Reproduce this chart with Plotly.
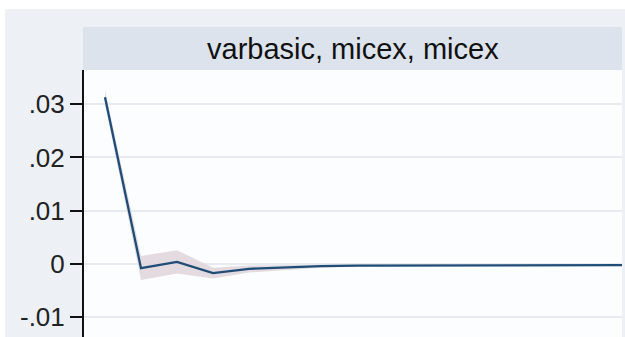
import plotly.graph_objects as go

steps = list(range(16))
irf = [0.0313, -0.0008, 0.0004, -0.0017, -0.0009, -0.0006, -0.0004, -0.0003,
       -0.0003, -0.0002, -0.0002, -0.0002, -0.0002, -0.0002, -0.0002, -0.0002]
ci_upper = [0.0326, 0.0015, 0.0026, -0.0007, -0.0003, -0.0002, -0.0001, -0.0001,
            -0.0001, -0.0001, -0.0001, -0.0001, -0.0001, -0.0001, -0.0001, -0.0001]
ci_lower = [0.0300, -0.0030, -0.0018, -0.0027, -0.0016, -0.0011, -0.0007, -0.0005,
            -0.0004, -0.0003, -0.0003, -0.0003, -0.0003, -0.0003, -0.0003, -0.0003]
ytick_vals = [-0.01, 0, 0.01, 0.02, 0.03]
ytick_text = ["-.01", "0", ".01", ".02", ".03"]
title = "varbasic, micex, micex"

fig = go.Figure()
fig.add_trace(go.Scatter(x=steps, y=ci_upper, mode="lines", line=dict(width=0),
                         showlegend=False, hoverinfo="skip"))
fig.add_trace(go.Scatter(x=steps, y=ci_lower, mode="lines", line=dict(width=0),
                         fill="tonexty", fillcolor="rgba(224,215,221,0.9)",
                         showlegend=False, hoverinfo="skip"))
fig.add_trace(go.Scatter(x=steps, y=irf, mode="lines",
                         line=dict(color="#1f4d78", width=2.3), showlegend=False))

W, H = 625, 337
L, R, T, B = 84, 3, 70, 0
pw, ph = W - L - R, H - T - B

def px(x):
    return (x - L) / pw

def py(y):
    return (H - B - y) / ph

shapes = [
    dict(type="rect", xref="paper", yref="paper", x0=px(0), x1=px(W), y0=py(9), y1=py(0),
         fillcolor="white", line=dict(width=0), layer="below"),
    dict(type="rect", xref="paper", yref="paper", x0=px(0), x1=px(5), y0=py(H), y1=py(0),
         fillcolor="white", line=dict(width=0), layer="below"),
    dict(type="rect", xref="paper", yref="paper", x0=px(83), x1=px(622), y0=1, y1=py(27),
         fillcolor="#dce3ec", line=dict(width=0), layer="below"),
]

fig.update_layout(
    width=W, height=H,
    margin=dict(l=L, r=R, t=T, b=B, pad=0),
    paper_bgcolor="#edf1f6",
    plot_bgcolor="#fcfdfe",
    shapes=shapes,
    annotations=[dict(text=title, xref="paper", yref="paper", x=0.5, y=(1 + py(27)) / 2,
                      xanchor="center", yanchor="middle", showarrow=False,
                      font=dict(family="Liberation Sans, Arial", size=29, color="#111111"))],
    xaxis=dict(range=[-21 / 36, (622 - 105) / 36], showgrid=False, showticklabels=False,
               ticks="", zeroline=False, showline=False),
    yaxis=dict(range=[-0.0137, 0.0364], tickvals=ytick_vals, ticktext=ytick_text,
               showgrid=True, gridcolor="#e6ebf2", gridwidth=1.5, zeroline=False,
               showline=True, linecolor="#111111", linewidth=2,
               ticks="outside", ticklen=12, tickwidth=2, tickcolor="#111111",
               tickfont=dict(family="Liberation Sans, Arial", size=26, color="#222222")),
)

fig.write_html("out.html")
